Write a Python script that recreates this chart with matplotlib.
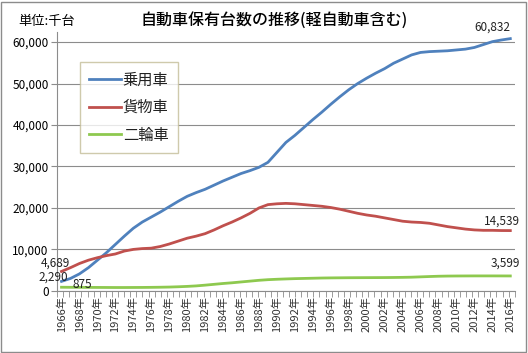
# 自動車保有台数の推移 chart

import numpy as np
import matplotlib
matplotlib.use('Agg')
import matplotlib.pyplot as plt
from matplotlib.patches import Rectangle

plt.rcParams['font.family'] = ['Noto Sans CJK JP', 'DejaVu Sans']

years = list(range(1966, 2017))

# 千台
passenger = [2290, 3000, 4100, 5600, 7400, 9200, 11200, 13200, 15100, 16600,
             17800, 19000, 20300, 21600, 22800, 23700, 24500, 25500, 26500, 27400,
             28300, 29000, 29800, 31000, 33400, 35800, 37500, 39400, 41300, 43100,
             45000, 46800, 48500, 50000, 51300, 52500, 53600, 54900, 55900, 56900,
             57500, 57700, 57800, 57900, 58100, 58300, 58700, 59400, 60100, 60500,
             60832]
truck = [4689, 5600, 6600, 7400, 8000, 8500, 8900, 9600, 10000, 10200,
         10300, 10700, 11300, 12000, 12700, 13200, 13800, 14700, 15700, 16600,
         17600, 18700, 20000, 20800, 21000, 21100, 21000, 20800, 20600, 20400,
         20100, 19700, 19200, 18700, 18300, 18000, 17600, 17200, 16800, 16600,
         16500, 16300, 15900, 15500, 15200, 14900, 14700, 14600, 14600, 14550,
         14539]
bike = [875, 860, 850, 840, 830, 820, 810, 810, 820, 830,
        850, 880, 920, 990, 1080, 1200, 1380, 1580, 1780, 1950,
        2150, 2350, 2550, 2700, 2800, 2880, 2950, 3000, 3050, 3100,
        3130, 3150, 3170, 3180, 3190, 3200, 3210, 3230, 3260, 3300,
        3380, 3460, 3530, 3570, 3590, 3600, 3610, 3610, 3610, 3605,
        3599]

fig = plt.figure(figsize=(5.28, 3.53), dpi=100)
ax = fig.add_axes([0.108, 0.176, 0.867, 0.733])

ax.plot(years, passenger, color='#4f81bd', lw=2.0, label='乗用車')
ax.plot(years, truck, color='#c0504d', lw=2.0, label='貨物車')
ax.plot(years, bike, color='#8ec94f', lw=2.0, label='二輪車')

ax.set_xlim(1965.5, 2016.5)
ax.set_ylim(0, 62400)
ax.set_yticks(range(0, 60001, 10000))
ax.set_yticklabels(['{:,}'.format(v) for v in range(0, 60001, 10000)], fontsize=8.5)
ax.yaxis.grid(True, color='#8c8c8c', lw=0.8)
ax.set_axisbelow(True)

ax.set_xticks(years[::2])
ax.set_xticklabels(['{}年'.format(y) for y in years[::2]], rotation=90, fontsize=8,
                   color='#333333')
ax.set_xticks(np.linspace(1965.5, 2016.5, 76), minor=True)
ax.tick_params(axis='x', which='major', length=0, pad=4)
ax.tick_params(axis='x', which='minor', length=4, color='#8c8c8c')
ax.tick_params(axis='y', length=4, color='#8c8c8c', pad=2)

for s in ['top', 'right']:
    ax.spines[s].set_visible(False)
ax.spines['left'].set_color('#8c8c8c')
ax.spines['bottom'].set_color('#8c8c8c')

def label(x, y, dx, dy):
    ax.annotate('{:,}'.format(y), (x, y), xytext=(dx, dy), textcoords='offset pixels',
                ha='center', va='center', fontsize=8.5, color='#222222')

label(2016, passenger[-1], -18, 11)
label(2016, truck[-1], -8, 9)
label(2016, bike[-1], -5, 13)
label(1966, truck[0], -6, 8)
label(1966, passenger[0], -8, 4)
label(1966, bike[0], 21, 3)

leg = ax.legend(loc='upper left', bbox_to_anchor=(0.05, 0.884), fontsize=11,
                handlelength=2.1, handletextpad=0.1, labelspacing=0.7,
                fancybox=False, borderpad=0.6, borderaxespad=0)
leg.get_frame().set_edgecolor('#c4bd97')
leg.get_frame().set_linewidth(1.0)
for t in leg.get_texts():
    t.set_color('#222222')

fig.text(0.52, 0.942, '自動車保有台数の推移(軽自動車含む)', ha='center', va='center',
         fontsize=11.5, fontweight='medium')
fig.text(0.034, 0.94, '単位:千台', ha='left', va='center', fontsize=9.5)

fig.patches.append(Rectangle((0.002, 0.003), 0.994, 0.992, transform=fig.transFigure,
                             fill=False, edgecolor='#8c8c8c', lw=1))

fig.savefig('out.png', dpi=100)
